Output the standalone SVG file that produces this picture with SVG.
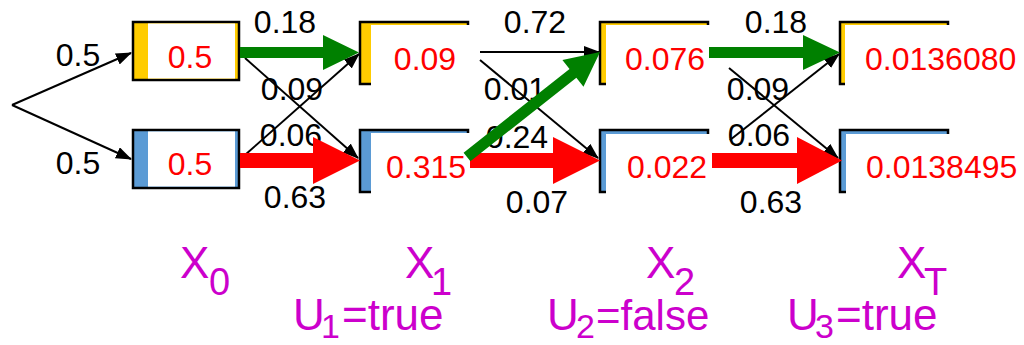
<svg xmlns="http://www.w3.org/2000/svg" width="1024" height="345" viewBox="0 0 1024 345">
<style>
text{font-family:"Liberation Sans",Arial,sans-serif}
.edge{font-size:32px;fill:#000;text-anchor:middle}
.val{font-size:32px;fill:#FF0000;text-anchor:middle}
.valL{font-size:32px;fill:#FF0000}
.lab{font-size:44px;fill:#CC00CC}
.thin{stroke:#000;stroke-width:2;fill:none;marker-end:url(#ah)}
.frame{stroke:#000;stroke-width:2.5}
.yel{fill:#FFCC00}
.blu{fill:#5B9BD5}
.cover{fill:#fff}
.g{fill:#008000}
.r{fill:#FF0000}
</style>
<defs>
<marker id="ah" markerUnits="userSpaceOnUse" markerWidth="16" markerHeight="12" refX="15" refY="6" orient="auto">
<path d="M0,0 L16,6 L0,12 z" fill="#000"/>
</marker>
<clipPath id="clipR"><rect x="727" y="0" width="300" height="345"/></clipPath>
</defs>
<rect width="1024" height="345" fill="#fff"/>

<g id="node-x0-true">
<rect class="frame yel" x="133" y="22" width="106" height="58"/>
<rect class="cover" x="148" y="23.5" width="87" height="55"/>
<text class="val" x="190" y="68">0.5</text>
</g>
<g id="node-x0-false">
<rect class="frame blu" x="133" y="130" width="106" height="58"/>
<rect class="cover" x="148" y="131.5" width="87" height="55"/>
<text class="val" x="190" y="175">0.5</text>
</g>
<g id="node-x1-true">
<rect class="frame yel" x="360" y="22" width="108" height="62"/>
<rect class="cover" x="371" y="25" width="106" height="62"/>
<text class="val" x="425" y="70">0.09</text>
</g>
<g id="node-x1-false">
<rect class="frame blu" x="360" y="130" width="108" height="62"/>
<rect class="cover" x="371" y="133" width="106" height="62"/>
<text class="val" x="426" y="178">0.315</text>
</g>
<g id="node-x2-true">
<rect class="frame yel" x="600" y="22" width="108" height="62"/>
<rect class="cover" x="606" y="25" width="105" height="62"/>
<text class="val" x="665" y="70">0.076</text>
</g>
<g id="node-x2-false">
<rect class="frame blu" x="600" y="130" width="108" height="62"/>
<rect class="cover" x="606" y="134" width="105" height="62"/>
<text class="val" x="667" y="178">0.022</text>
</g>
<g id="node-xt-true">
<rect class="frame yel" x="840" y="22" width="108" height="62"/>
<rect class="cover" x="845" y="25" width="110" height="62"/>
<text class="valL" x="865" y="70">0.0136080</text>
</g>
<g id="node-xt-false">
<rect class="frame blu" x="840" y="130" width="108" height="62"/>
<rect class="cover" x="846" y="134" width="110" height="62"/>
<text class="valL" x="866" y="178">0.0138495</text>
</g>

<g id="connectors">
<line class="thin" x1="12" y1="105" x2="131" y2="53"/>
<line class="thin" x1="12" y1="105" x2="131" y2="159"/>
<line class="thin" x1="245" y1="58" x2="358" y2="158"/>
<line class="thin" x1="245" y1="155" x2="359" y2="54"/>
<line class="thin" x1="480" y1="52" x2="599" y2="52"/>
<line class="thin" x1="480" y1="60" x2="598" y2="158"/>
<line class="thin" x1="729" y1="68" x2="838" y2="158"/>
<line class="thin" x1="730" y1="140" x2="839" y2="54"/>

<text class="edge" x="78" y="66">0.5</text>
<text class="edge" x="78" y="174">0.5</text>
<text class="edge" x="285" y="33">0.18</text>
<text class="edge" x="292" y="100">0.09</text>
<text class="edge" x="291" y="146">0.06</text>
<text class="edge" x="295" y="208">0.63</text>
<text class="edge" x="535" y="33">0.72</text>
<text class="edge" x="515" y="100">0.01</text>
<text class="edge" x="517" y="148">0.24</text>
<text class="edge" x="537" y="213">0.07</text>
<text class="edge" x="776" y="33">0.18</text>
<text class="edge" x="758" y="100" clip-path="url(#clipR)">0.09</text>
<text class="edge" x="759" y="146" clip-path="url(#clipR)">0.06</text>
<text class="edge" x="771" y="213">0.63</text>

<polygon class="g" points="240,47 323,47 323,35 359,52.5 323,70 323,58 240,58"/>
<polygon class="r" points="240,153 313,153 313,137 360,160.5 313,184 313,168 240,168"/>
<polygon class="r" points="470,153 553,153 553,137 600,160.5 553,184 553,168 470,168"/>
<polygon class="g" transform="translate(467,157) rotate(-38.3)" points="0,-5.5 135,-5.5 135,-17 169.5,0 135,17 135,5.5 0,5.5"/>
<polygon class="g" points="709,47 803,47 803,35 840,52.5 803,70 803,58 709,58"/>
<polygon class="r" points="712,153 797,153 797,137 842,160.5 797,184 797,168 712,168"/>
</g>

<g id="labels">
<text class="lab"><tspan x="180" y="278">X</tspan><tspan x="209" y="295" font-size="38">0</tspan></text>
<text class="lab"><tspan x="405" y="278">X</tspan><tspan x="431" y="295" font-size="38">1</tspan></text>
<text class="lab"><tspan x="646" y="278">X</tspan><tspan x="674" y="295" font-size="38">2</tspan></text>
<text class="lab"><tspan x="897" y="278">X</tspan><tspan x="924" y="295" font-size="38">T</tspan></text>
<text class="lab"><tspan x="293" y="330">U</tspan><tspan x="321" y="338" font-size="34">1</tspan><tspan x="342" y="330">=true</tspan></text>
<text class="lab"><tspan x="547" y="330">U</tspan><tspan x="576" y="338" font-size="34">2</tspan><tspan x="596" y="330" font-size="42">=false</tspan></text>
<text class="lab"><tspan x="787" y="330">U</tspan><tspan x="815" y="338" font-size="34">3</tspan><tspan x="836" y="330">=true</tspan></text>
</g>
</svg>
